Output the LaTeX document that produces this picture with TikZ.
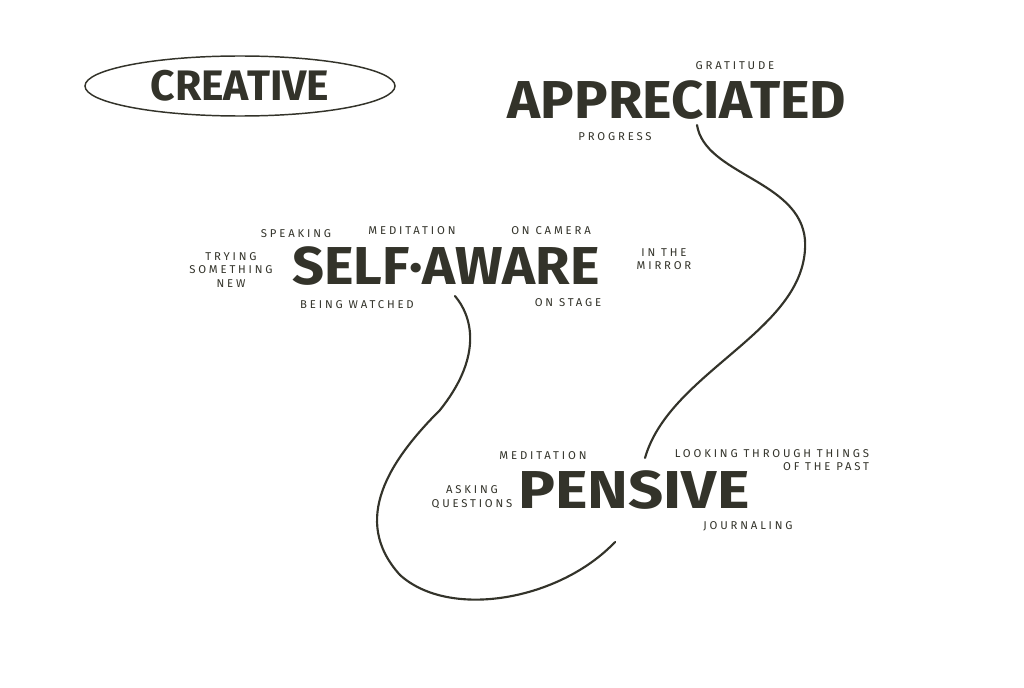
\documentclass[tikz,border=0pt]{standalone}
\usepackage{fontspec}
\setmainfont{Fira Sans}
\definecolor{ink}{HTML}{33332A}
\begin{document}
\begin{tikzpicture}[x=0.75pt,y=-0.75pt,
  big/.style={text=ink,font=\fontsize{40}{42}\selectfont\bfseries,inner sep=0,xscale=1.05},
  mid/.style={text=ink,font=\fontsize{32}{34}\selectfont\bfseries,inner sep=0},
  lab/.style={text=ink,font=\fontsize{8.5}{10}\selectfont\addfontfeature{LetterSpace=25},inner sep=0,align=center},
  stroke/.style={draw=ink,line width=1.6pt,line cap=round}]
\useasboundingbox[fill=white] (0,0) rectangle (1024,688);
\node[mid] (cre) at (240,86) {CREATIVE};
\draw[ink,line width=1.1pt] (cre) ellipse [x radius=155, y radius=30];
\node[big] (app) at (677,100) {APPRECIATED};
\node[lab] at (735,66) {GRATITUDE};
\node[lab] at (615,137) {PROGRESS};
\node[big] (self) at (446,266) {SELF·AWARE};
\node[lab] at (296,234) {SPEAKING};
\node[lab] at (412,231) {MEDITATION};
\node[lab] at (551,231) {ON CAMERA};
\node[lab] at (231,270) {TRYING\\SOMETHING\\NEW};
\node[lab] at (664,259) {IN THE\\MIRROR};
\node[lab] at (357,305) {BEING WATCHED};
\node[lab] at (568,303) {ON STAGE};
\node[big,xscale=1.1] (pen) at (634,490) {PENSIVE};
\node[lab] at (543,456) {MEDITATION};
\node[lab] at (472,497) {ASKING\\QUESTIONS};
\node[lab,align=right] at (772,460) {LOOKING THROUGH THINGS\\OF THE PAST};
\node[lab] at (748,526) {JOURNALING};
\coordinate (a1) at (697,125);
\coordinate (p1) at (645,458);
\coordinate (s1) at (455,296);
\coordinate (p2) at (615,542);
\draw[stroke] (a1) .. controls (705,175) and (800,180) .. (805,240)
  .. controls (810,330) and (670,370) .. (p1);
\draw[stroke] (s1) .. controls (475,320) and (480,360) .. (440,410)
  .. controls (390,460) and (350,520) .. (400,575)
  .. controls (450,620) and (560,600) .. (p2);
\end{tikzpicture}
\end{document}
